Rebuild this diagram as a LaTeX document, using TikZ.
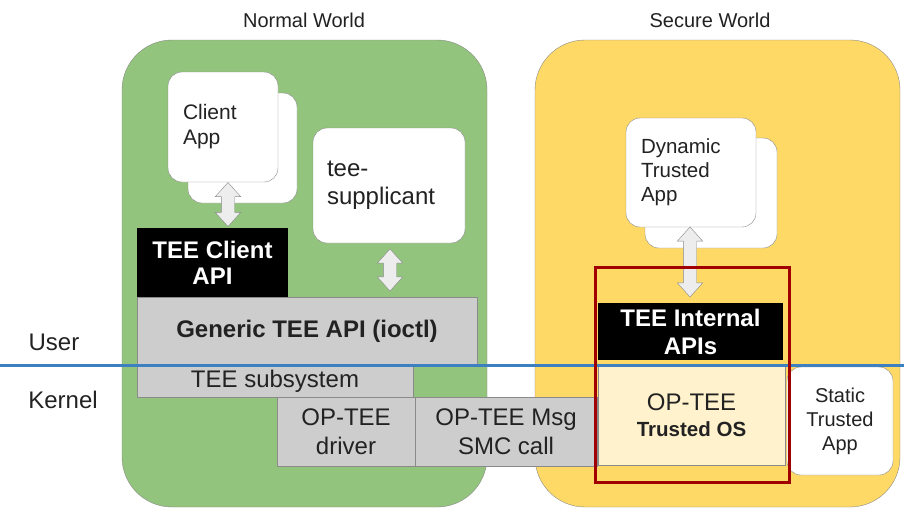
\documentclass[tikz,border=0pt]{standalone}
\usepackage{fontspec}
\setmainfont{Liberation Sans}
\usetikzlibrary{shapes.arrows}

\definecolor{nwgreen}{HTML}{93C47D}
\definecolor{swyellow}{HTML}{FFD966}
\definecolor{edgegray}{HTML}{8A8A8A}
\definecolor{layergray}{HTML}{CDCDCD}
\definecolor{osyellow}{HTML}{FFF2CC}
\definecolor{arrowfill}{HTML}{EDEDED}
\definecolor{userline}{HTML}{3D80C2}
\definecolor{focusred}{HTML}{A00000}
\definecolor{txt}{HTML}{222222}

\tikzset{
	world box/.style={
		draw=edgegray,
		rounded corners=50pt,
		inner sep=0pt,
		minimum width=365pt,
		minimum height=467pt
	},
	app box/.style={
		draw=edgegray,
		fill=white,
		rounded corners=14pt,
		inner sep=0pt,
		text=txt
	},
	layer box/.style={
		draw=edgegray,
		fill=layergray,
		inner sep=0pt,
		align=center,
		text=txt,
		font=\fontsize{24}{29}\selectfont
	},
	api black/.style={
		fill=black,
		text=white,
		inner sep=0pt,
		align=center,
		font=\fontsize{24}{26}\selectfont\bfseries
	},
	fat arrow/.style={
		double arrow,
		draw=edgegray,
		fill=arrowfill,
		inner sep=6.5pt,
		double arrow head extend=6pt,
		double arrow tip angle=84,
		shape border rotate=90
	}
}

\begin{document}
\begin{tikzpicture}[x=1pt,y=-1pt]

\useasboundingbox (0,0) rectangle (904,509);

\node[world box, fill=nwgreen]  (normal) at (304.5,273.5) {};
\node[world box, fill=swyellow] (secure) at (717.5,273.5) {};
\node[text=txt, font=\fontsize{20}{22}\selectfont] (normaltitle) at (304,20) {Normal World};
\node[text=txt, font=\fontsize{20}{22}\selectfont] (securetitle) at (710,20) {Secure World};

\node[app box, minimum width=109pt, minimum height=110pt] (clientback) at (242.5,148) {};
\node[app box, minimum width=110pt, minimum height=110pt, text width=80pt, align=left,
	font=\fontsize{21}{25}\selectfont] (client) at (223,127) {Client\\App};

\node[app box, minimum width=152pt, minimum height=115pt, text width=124pt, align=left,
	font=\fontsize{24}{28}\selectfont] (supp) at (389,185.5) {tee-\\supplicant};

\node[api black, minimum width=151pt, minimum height=69pt] (clientapi) at (212.5,262.5) {TEE Client\\API};

\node[layer box, minimum width=340pt, minimum height=68pt,
	font=\fontsize{24}{28}\selectfont\bfseries] (generic) at (307,331) {Generic TEE API (ioctl)};
\node[layer box, minimum width=276pt, minimum height=32pt] (subsys) at (275,381) {TEE subsystem};
\node[layer box, minimum width=138pt, minimum height=69pt] (driver) at (346,431.5) {OP-TEE\\driver};
\node[layer box, minimum width=182pt, minimum height=69pt] (smc) at (506,431.5) {OP-TEE Msg\\SMC call};

\node[app box, minimum width=132pt, minimum height=110pt] (dynback) at (711,193) {};
\node[app box, minimum width=130pt, minimum height=109pt, text width=100pt, align=left,
	font=\fontsize{20.5}{24}\selectfont] (dynta) at (691,172.5) {Dynamic\\Trusted\\App};

\node[api black, minimum width=185pt, minimum height=57pt,
	font=\fontsize{24}{28}\selectfont\bfseries] (internal) at (690.5,331.5) {TEE Internal\\APIs};
\node[layer box, fill=osyellow, minimum width=187pt, minimum height=99pt] (tos) at (691.5,415.5)
	{OP-TEE\\[-3pt]{\fontsize{20.5}{24}\selectfont\bfseries Trusted OS}};
\node[app box, minimum width=106pt, minimum height=108pt, align=center,
	font=\fontsize{20}{24}\selectfont] (static) at (840,421) {Static\\Trusted\\App};

\node[fat arrow, minimum height=44pt] (clientarrow) at (228,204.5) {};
\node[fat arrow, minimum height=42pt] (supparrow) at (390,270) {};
\node[fat arrow, minimum height=70pt] (dynarrow) at (690,262) {};

\draw[userline, line width=3pt] (0,365) -- (904,365);
\node[text=txt, font=\fontsize{24}{26}\selectfont] (user) at (54,342) {User};
\node[text=txt, font=\fontsize{24}{26}\selectfont] (kernel) at (63,400) {Kernel};

\draw[focusred, line width=3pt] (595,267) rectangle (789,482);

\end{tikzpicture}
\end{document}
